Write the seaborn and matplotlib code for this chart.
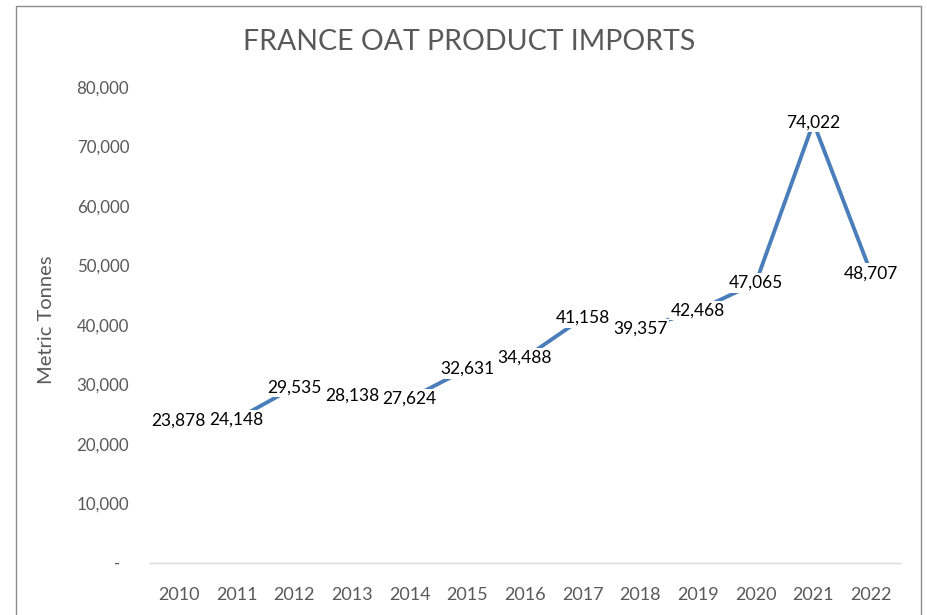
import matplotlib.pyplot as plt
import matplotlib.patches as mpatches
import seaborn as sns
import pandas as pd

# === Datos ===
years = ['2010', '2011', '2012', '2013', '2014', '2015', '2016',
         '2017', '2018', '2019', '2020', '2021', '2022']
imports = [23878, 24148, 29535, 28138, 27624, 32631, 34488,
           41158, 39357, 42468, 47065, 74022, 48707]
y_ticks = [0, 10000, 20000, 30000, 40000, 50000, 60000, 70000, 80000]

df = pd.DataFrame({'year': years, 'imports': imports})

sns.set_style('white')
plt.rcParams['font.family'] = ['Lato', 'DejaVu Sans']

fig = plt.figure(figsize=(9.28, 6.15), dpi=100)
ax = fig.add_axes([0.1616, 0.0846, 0.8082, 0.7739])

sns.lineplot(data=df, x='year', y='imports', color='#4A7EBB', linewidth=2.8,
             sort=False, ax=ax)

for i, v in enumerate(imports):
    ax.text(i, v, f'{v:,}', ha='center', va='center', fontsize=12.5, color='black',
            bbox=dict(facecolor='white', edgecolor='none', pad=1.2), zorder=5)

ax.set_xlim(-0.5, len(years) - 0.5)
ax.set_ylim(0, 80000)
ax.set_yticks(y_ticks)
ax.set_yticklabels(['-  '] + [f'{t:,}' for t in y_ticks[1:]])
ax.tick_params(axis='y', length=0, pad=15, labelsize=12.2, labelcolor='#595959')
ax.tick_params(axis='x', length=0, pad=17, labelsize=13, labelcolor='#595959')

for s in ['top', 'right', 'left']:
    ax.spines[s].set_visible(False)
ax.spines['bottom'].set_color('#D9D9D9')
ax.spines['bottom'].set_linewidth(1)

ax.set_xlabel('')
ax.set_ylabel('Metric Tonnes', fontsize=14.5, color='#595959')
ax.yaxis.set_label_coords(-0.126, 0.51)

fig.text(0.505, 0.932, 'FRANCE OAT PRODUCT IMPORTS', ha='center', va='center',
         fontsize=20.5, color='#595959')

# marco del gráfico
fig.patches.append(mpatches.Rectangle((0.0172, -0.02), 0.975, 1.0105,
                                      transform=fig.transFigure, fill=False,
                                      edgecolor='#8C8C8C', linewidth=1))

plt.savefig('out.png', dpi=100)
